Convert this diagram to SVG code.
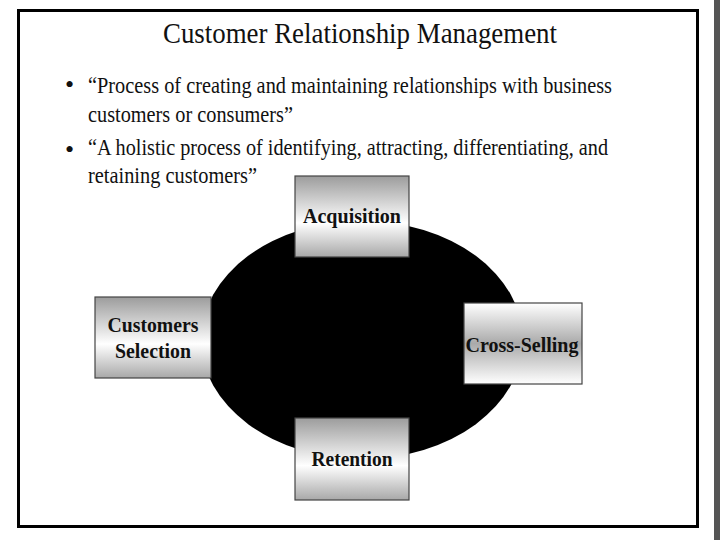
<svg xmlns="http://www.w3.org/2000/svg" width="720" height="540" viewBox="0 0 720 540">
<style>
.title{font-family:"Liberation Serif","Times New Roman",serif;font-size:29px;fill:#111}
.body{font-family:"Liberation Serif","Times New Roman",serif;font-size:23px;fill:#111}
.bul{font-family:"Liberation Serif","Times New Roman",serif;font-size:26px;fill:#111}
.lbl{font-family:"Liberation Serif","Times New Roman",serif;font-size:21px;font-weight:bold;fill:#111;text-anchor:middle}
.box{stroke:#444;stroke-width:1.2}
</style>
<defs>
<linearGradient id="gDown" x1="0" y1="0" x2="0" y2="1">
<stop offset="0" stop-color="#9c9c9c"/>
<stop offset="0.58" stop-color="#fff"/>
<stop offset="1" stop-color="#a8a8a8"/>
</linearGradient>
<linearGradient id="gMid" x1="0" y1="0" x2="0" y2="1">
<stop offset="0" stop-color="#fff"/>
<stop offset="0.5" stop-color="#aaa"/>
<stop offset="1" stop-color="#fff"/>
</linearGradient>
</defs>
<rect width="720" height="540" fill="#fff"/>
<rect x="714" y="0" width="6" height="540" fill="#555"/>
<rect x="18.5" y="10.5" width="679" height="516" fill="none" stroke="#000" stroke-width="3"/>
<text class="title" x="163" y="43" textLength="394" lengthAdjust="spacingAndGlyphs">Customer Relationship Management</text>
<g id="bullets">
<text class="bul" x="65" y="93">•</text>
<text class="body" x="88" y="93" textLength="524" lengthAdjust="spacingAndGlyphs">“Process of creating and maintaining relationships with business</text>
<text class="body" x="88" y="122" textLength="205" lengthAdjust="spacingAndGlyphs">customers or consumers”</text>
<text class="bul" x="65" y="158">•</text>
<text class="body" x="88" y="155" textLength="520" lengthAdjust="spacingAndGlyphs">“A holistic process of identifying, attracting, differentiating, and</text>
<text class="body" x="88" y="183" textLength="169" lengthAdjust="spacingAndGlyphs">retaining customers”</text>
</g>
<g id="cycle">
<ellipse cx="362" cy="340" rx="161" ry="119" fill="#000"/>
</g>
<g id="acquisition">
<rect class="box" x="295" y="176" width="114" height="81" fill="url(#gDown)"/>
<text class="lbl" x="352" y="223" textLength="98" lengthAdjust="spacingAndGlyphs">Acquisition</text>
</g>
<g id="customers-selection">
<rect class="box" x="95" y="297" width="116" height="81" fill="url(#gDown)"/>
<text class="lbl" x="153" y="332" textLength="91" lengthAdjust="spacingAndGlyphs">Customers</text>
<text class="lbl" x="153" y="358" textLength="76" lengthAdjust="spacingAndGlyphs">Selection</text>
</g>
<g id="cross-selling">
<rect class="box" x="464" y="303" width="118" height="81" fill="url(#gMid)"/>
<text class="lbl" x="522" y="352" textLength="113" lengthAdjust="spacingAndGlyphs">Cross-Selling</text>
</g>
<g id="retention">
<rect class="box" x="295" y="418" width="114" height="82" fill="url(#gDown)"/>
<text class="lbl" x="352" y="466" textLength="81" lengthAdjust="spacingAndGlyphs">Retention</text>
</g>
</svg>
